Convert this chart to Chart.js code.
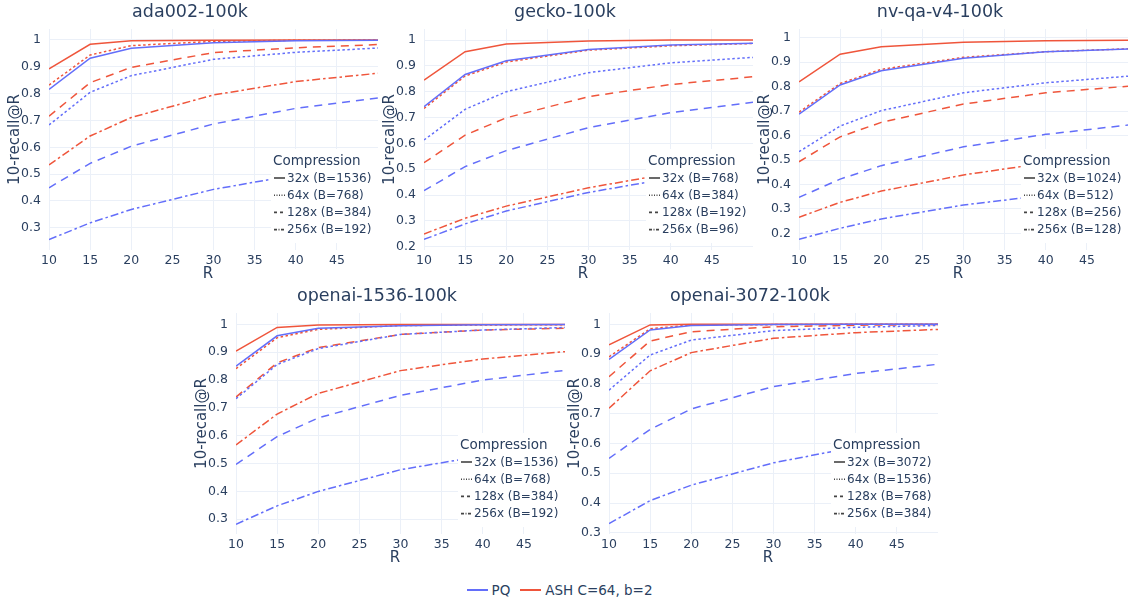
<!DOCTYPE html>
<html>
<head>
<meta charset="utf-8">
<script src="https://cdn.jsdelivr.net/npm/chart.js@4/dist/chart.umd.min.js"></script>
<style>
  html, body { margin: 0; padding: 0; background: #fff; overflow: hidden; }
  body { width: 1129px; height: 602px; position: relative; font-family: "DejaVu Sans", Verdana, sans-serif; }
  .panel { position: absolute; width: 384px; height: 290px; }
  #methods { position: absolute; left: 0; top: 581px; width: 1129px; height: 18px;
             display: flex; justify-content: center; align-items: center;
             font-size: 13.5px; color: #2a3f5f; }
  #methods .swatch { display: inline-block; width: 21px; height: 2px; margin-right: 4px; }
  #methods .item { display: flex; align-items: center; margin-right: 10px; }
</style>
</head>
<body>
<div id="methods">
  <span class="item"><span class="swatch" style="background:#636efa"></span>PQ</span>
  <span class="item"><span class="swatch" style="background:#ef553b"></span>ASH C=64, b=2</span>
</div>
<script>
const rValues = [10, 15, 20, 30, 40, 50];
const xTicks = [10, 15, 20, 25, 30, 35, 40, 45];

// 10-recall@R per compression level (rows: 32x, 64x, 128x, 256x)
const ada002PQ = [
  [0.816, 0.932, 0.969, 0.990, 0.997, 0.999],
  [0.683, 0.805, 0.867, 0.928, 0.954, 0.970],
  [0.449, 0.540, 0.604, 0.687, 0.745, 0.784],
  [0.256, 0.318, 0.368, 0.443, 0.497, 0.540]
];
const ada002ASH = [
  [0.892, 0.984, 0.997, 0.999, 1.000, 1.000],
  [0.832, 0.944, 0.979, 0.995, 0.999, 1.000],
  [0.716, 0.841, 0.898, 0.953, 0.971, 0.983],
  [0.534, 0.642, 0.711, 0.795, 0.845, 0.876]
];
const ada002Levels = ['32x (B=1536)', '64x (B=768)', '128x (B=384)', '256x (B=192)'];

const geckoPQ = [
  [0.742, 0.867, 0.920, 0.964, 0.981, 0.988],
  [0.613, 0.732, 0.800, 0.874, 0.912, 0.933],
  [0.417, 0.510, 0.572, 0.661, 0.719, 0.759],
  [0.228, 0.288, 0.338, 0.410, 0.465, 0.510]
];
const geckoASH = [
  [0.845, 0.955, 0.985, 0.997, 1.000, 1.000],
  [0.735, 0.861, 0.915, 0.961, 0.978, 0.987],
  [0.525, 0.632, 0.699, 0.781, 0.828, 0.858],
  [0.249, 0.310, 0.357, 0.428, 0.484, 0.530]
];
const geckoLevels = ['32x (B=768)', '64x (B=384)', '128x (B=192)', '256x (B=96)'];

const nvqaPQ = [
  [0.688, 0.807, 0.865, 0.916, 0.943, 0.954],
  [0.534, 0.639, 0.702, 0.775, 0.816, 0.843],
  [0.347, 0.422, 0.477, 0.554, 0.605, 0.643],
  [0.176, 0.221, 0.259, 0.316, 0.356, 0.390]
];
const nvqaASH = [
  [0.820, 0.933, 0.963, 0.982, 0.988, 0.990],
  [0.696, 0.813, 0.871, 0.920, 0.943, 0.955],
  [0.493, 0.595, 0.654, 0.729, 0.775, 0.802],
  [0.266, 0.327, 0.373, 0.439, 0.488, 0.530]
];
const nvqaLevels = ['32x (B=1024)', '64x (B=512)', '128x (B=256)', '256x (B=128)'];

const openai1536PQ = [
  [0.850, 0.959, 0.986, 0.995, 0.999, 1.000],
  [0.733, 0.856, 0.913, 0.964, 0.980, 0.989],
  [0.497, 0.597, 0.664, 0.745, 0.800, 0.835],
  [0.282, 0.348, 0.400, 0.478, 0.528, 0.570]
];
const openai1536ASH = [
  [0.904, 0.989, 0.998, 1.000, 1.000, 1.000],
  [0.841, 0.952, 0.982, 0.996, 0.998, 0.999],
  [0.739, 0.862, 0.917, 0.964, 0.980, 0.986],
  [0.567, 0.678, 0.752, 0.834, 0.876, 0.902]
];
const openai1536Levels = ['32x (B=1536)', '64x (B=768)', '128x (B=384)', '256x (B=192)'];

const openai3072PQ = [
  [0.882, 0.981, 0.996, 0.999, 1.000, 1.000],
  [0.779, 0.897, 0.947, 0.979, 0.990, 0.996],
  [0.550, 0.647, 0.716, 0.791, 0.835, 0.866],
  [0.331, 0.408, 0.460, 0.535, 0.588, 0.630]
];
const openai3072ASH = [
  [0.931, 0.998, 1.000, 1.000, 1.000, 1.000],
  [0.891, 0.985, 0.998, 0.999, 1.000, 1.000],
  [0.824, 0.944, 0.975, 0.992, 0.997, 0.999],
  [0.718, 0.844, 0.905, 0.953, 0.972, 0.983]
];
const openai3072Levels = ['32x (B=3072)', '64x (B=1536)', '128x (B=768)', '256x (B=384)'];

const ticks03 = [0.3, 0.4, 0.5, 0.6, 0.7, 0.8, 0.9, 1];
const ticks02 = [0.2, 0.3, 0.4, 0.5, 0.6, 0.7, 0.8, 0.9, 1];

const PQ_COLOR = '#636efa';
const ASH_COLOR = '#ef553b';
const TEXT = '#2a3f5f';
const GRID = '#ebf0f8';
const FONT = '"DejaVu Sans", Verdana, sans-serif';
const lineDash = [[], [2.5, 2.5], [8, 6], [8, 3, 2.5, 3]];
const sampleDash = [[], [1, 1.5], [3, 3], [3, 1.5, 1, 1.5]];

const panels = [
  { title: 'ada002-100k', pq: ada002PQ, ash: ada002ASH, levels: ada002Levels,
    yTicks: ticks03, yMin: 0.217, yMax: 1.041, left: 49, top: 29 },
  { title: 'gecko-100k', pq: geckoPQ, ash: geckoASH, levels: geckoLevels,
    yTicks: ticks02, yMin: 0.187, yMax: 1.043, left: 424, top: 29 },
  { title: 'nv-qa-v4-100k', pq: nvqaPQ, ash: nvqaASH, levels: nvqaLevels,
    yTicks: ticks02, yMin: 0.132, yMax: 1.036, left: 799, top: 29 },
  { title: 'openai-1536-100k', pq: openai1536PQ, ash: openai1536ASH, levels: openai1536Levels,
    yTicks: ticks03, yMin: 0.247, yMax: 1.041, left: 236, top: 313 },
  { title: 'openai-3072-100k', pq: openai3072PQ, ash: openai3072ASH, levels: openai3072Levels,
    yTicks: ticks03, yMin: 0.296, yMax: 1.038, left: 609, top: 313 }
];

// subplot title, axis titles and the in-plot "Compression" legend
const panelDecor = {
  id: 'panelDecor',
  afterDatasetsDraw(chart, args, opts) {
    const { ctx, chartArea: a } = chart;
    ctx.save();
    ctx.fillStyle = '#fff';
    ctx.fillRect(a.left + 222, a.top + 120, a.right - a.left - 222 + 2, 94);

    ctx.fillStyle = TEXT;
    ctx.textBaseline = 'middle';
    ctx.textAlign = 'left';
    ctx.font = '13.5px ' + FONT;
    ctx.fillText('Compression', a.left + 224, a.top + 132);
    ctx.font = '12px ' + FONT;
    opts.levels.forEach((label, i) => {
      const y = a.top + 149 + i * 17.2;
      ctx.strokeStyle = '#444';
      ctx.lineWidth = 1.6;
      ctx.setLineDash(sampleDash[i]);
      ctx.beginPath();
      ctx.moveTo(a.left + 225, y);
      ctx.lineTo(a.left + 236, y);
      ctx.stroke();
      ctx.setLineDash([]);
      ctx.fillText(label, a.left + 238, y + 0.5);
    });

    ctx.textAlign = 'center';
    ctx.font = '17.5px ' + FONT;
    ctx.fillText(opts.title, a.left + 141, a.top - 17);
    ctx.font = '15px ' + FONT;
    ctx.fillText('R', a.left + 159, a.bottom + 24.5);
    ctx.translate(a.left - 34, (a.top + a.bottom) / 2);
    ctx.rotate(-Math.PI / 2);
    ctx.fillText('10-recall@R', 0, 0);
    ctx.restore();
  }
};

function series(vals, color, dash) {
  return {
    data: rValues.map((r, k) => ({ x: r, y: vals[k] })),
    borderColor: color,
    borderWidth: 1.5,
    borderDash: dash,
    pointRadius: 0,
    tension: 0,
    fill: false
  };
}

panels.forEach(p => {
  const host = document.createElement('div');
  host.className = 'panel';
  host.style.left = (p.left - 49) + 'px';
  host.style.top = (p.top - 29) + 'px';
  const canvas = document.createElement('canvas');
  host.appendChild(canvas);
  document.body.appendChild(host);

  const datasets = [];
  p.pq.forEach((vals, i) => datasets.push(series(vals, PQ_COLOR, lineDash[i])));
  p.ash.forEach((vals, i) => datasets.push(series(vals, ASH_COLOR, lineDash[i])));

  new Chart(canvas, {
    type: 'line',
    data: { datasets: datasets },
    plugins: [panelDecor],
    options: {
      responsive: true,
      maintainAspectRatio: false,
      animation: false,
      layout: { padding: { top: 29, right: 6, left: 0, bottom: 0 } },
      plugins: {
        legend: { display: false },
        tooltip: { enabled: false },
        panelDecor: { title: p.title, levels: p.levels }
      },
      scales: {
        x: {
          type: 'linear',
          min: 10,
          max: 50,
          afterBuildTicks: s => { s.ticks = xTicks.map(v => ({ value: v })); },
          afterFit: s => { s.height = 40; },
          grid: { color: GRID, drawTicks: false },
          border: { display: false },
          ticks: { color: TEXT, font: { family: FONT, size: 12.5 }, padding: 3,
                   maxRotation: 0, autoSkip: false, callback: v => String(v) }
        },
        y: {
          type: 'linear',
          min: p.yMin,
          max: p.yMax,
          afterBuildTicks: s => { s.ticks = p.yTicks.map(v => ({ value: v })); },
          afterFit: s => { s.width = 49; },
          grid: { color: GRID, drawTicks: false },
          border: { display: false },
          ticks: { color: TEXT, font: { family: FONT, size: 12.5 }, padding: 8,
                   autoSkip: false, callback: v => String(v) }
        }
      }
    }
  });
});
</script>
</body>
</html>
